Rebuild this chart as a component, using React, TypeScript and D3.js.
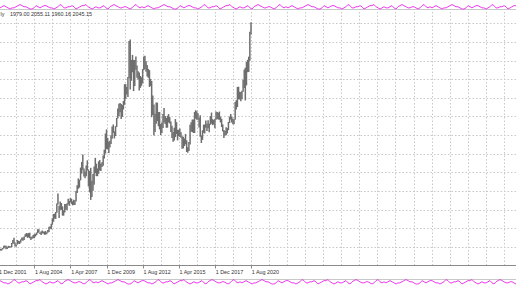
import React from "react";
import * as d3 from "d3";

const W = 516;
const H = 290;

// Monthly bars starting Oct 2001
const startMonth = new Date(2001, 9, 1);
const highs: number[] = [
  293, 284, 282,
  293, 304, 304, 311, 327, 330, 327, 316, 327, 325, 323, 349,
  372, 389, 352, 336, 372, 366, 363, 377, 391, 392, 399, 417,
  426, 422, 427, 428, 396, 399, 410, 417, 420, 430, 456, 456,
  431, 437, 446, 438, 437, 442, 431, 449, 474, 477, 497, 540,
  574, 575, 589, 654, 732, 636, 670, 658, 632, 600, 650, 650,
  656, 690, 673, 697, 691, 672, 683, 679, 751, 795, 848, 838,
  932, 975, 1033, 925, 902, 948, 988, 917, 905, 930, 830, 883,
  940, 1007, 962, 925, 980, 990, 962, 973, 1025, 1070, 1195, 1227,
  1161, 1131, 1139, 1182, 1249, 1265, 1212, 1252, 1316, 1388, 1425, 1431,
  1424, 1415, 1447, 1576, 1577, 1555, 1632, 1911, 1921, 1764, 1803, 1764,
  1764, 1791, 1720, 1677, 1667, 1640, 1630, 1693, 1791, 1796, 1754, 1724,
  1695, 1685, 1617, 1601, 1488, 1420, 1348, 1434, 1434, 1361, 1362, 1268,
  1280, 1345, 1392, 1331, 1315, 1332, 1345, 1322, 1288, 1256, 1207, 1239,
  1307, 1283, 1224, 1224, 1233, 1204, 1174, 1170, 1157, 1191, 1142, 1088,
  1129, 1263, 1283, 1303, 1304, 1362, 1375, 1368, 1352, 1318, 1337, 1181,
  1220, 1264, 1264, 1296, 1271, 1297, 1270, 1330, 1357, 1306, 1299, 1309,
  1366, 1362, 1356, 1365, 1326, 1309, 1266, 1223, 1214, 1243, 1237, 1284,
  1326, 1346, 1324, 1310, 1305, 1439, 1453, 1555, 1557, 1518, 1516, 1525,
  1611, 1689, 1704, 1748, 1765, 1789, 1981, 2055,
];
const lows: number[] = [
  272, 273, 271,
  277, 290, 290, 299, 307, 315, 301, 302, 311, 312, 314, 317,
  343, 344, 322, 322, 336, 343, 341, 352, 370, 366, 372, 396,
  398, 389, 392, 385, 372, 382, 385, 386, 399, 410, 424, 431,
  418, 411, 423, 423, 413, 414, 417, 428, 434, 460, 456, 490,
  513, 538, 535, 583, 646, 543, 605, 604, 561, 560, 585, 606,
  603, 648, 636, 664, 651, 640, 643, 642, 670, 735, 768, 777,
  833, 885, 915, 862, 850, 864, 909, 786, 740, 682, 705, 753,
  800, 890, 866, 865, 884, 910, 905, 936, 946, 1002, 1040, 1075,
  1074, 1045, 1087, 1114, 1155, 1200, 1157, 1176, 1245, 1311, 1331, 1360,
  1308, 1324, 1381, 1417, 1462, 1496, 1478, 1623, 1535, 1603, 1668, 1523,
  1563, 1688, 1627, 1613, 1527, 1548, 1564, 1583, 1685, 1692, 1672, 1636,
  1626, 1555, 1562, 1321, 1338, 1180, 1207, 1270, 1291, 1251, 1227, 1182,
  1200, 1238, 1280, 1268, 1240, 1240, 1280, 1273, 1206, 1160, 1131, 1142,
  1167, 1191, 1142, 1175, 1168, 1162, 1077, 1080, 1098, 1112, 1052, 1046,
  1060, 1111, 1208, 1207, 1199, 1199, 1310, 1301, 1302, 1241, 1171, 1122,
  1146, 1200, 1195, 1240, 1214, 1236, 1204, 1263, 1271, 1260, 1264, 1236,
  1302, 1307, 1303, 1301, 1281, 1245, 1211, 1160, 1180, 1182, 1196, 1221,
  1276, 1303, 1280, 1266, 1266, 1301, 1381, 1400, 1459, 1458, 1445, 1459,
  1517, 1547, 1451, 1567, 1669, 1671, 1757, 1960,
];

const priceLevels: number[] = [2047, 1903, 1759, 1615, 1471, 1327, 1183, 1039, 895, 751, 607, 463, 319];
const tickLabels: string[] = ["1 Dec 2001", "1 Aug 2004", "1 Apr 2007", "1 Dec 2009", "1 Aug 2012", "1 Apr 2015", "1 Dec 2017", "1 Aug 2020"];
const tickDates: Date[] = [
  new Date(2001, 11, 1), new Date(2004, 7, 1), new Date(2007, 3, 1), new Date(2009, 11, 1),
  new Date(2012, 7, 1), new Date(2015, 3, 1), new Date(2017, 11, 1), new Date(2020, 7, 1),
];
const headerLabel = "ly";
const headerValues = "1979.00 2055.11 1960.16 2045.15";

// decorative torn-edge wave pattern (pixel offsets, 0..4)
const wavePattern: number[] = [
  1, 2, 3, 2, 1, 0, 1, 1, 2, 3, 4, 3, 2, 2, 1, 0, 0, 1, 3, 2, 1, 2, 3, 3, 2, 1, 1, 0,
  1, 2, 4, 3, 1, 1, 2, 2, 3, 2, 0, 1, 2, 3, 3, 4, 2, 1, 0, 1, 2, 1, 1, 2, 3, 1, 0, 2,
  3, 4, 3, 2, 1, 1, 2, 2, 1, 0, 1, 3, 4, 2, 1, 2,
];

export default function App() {
  const x = d3.scaleTime().domain([new Date(2004, 7, 1), new Date(2020, 7, 1)]).range([34.3, 251]);
  const y = d3.scaleLinear().domain([175, 2057]).range([265.5, 22]);

  const gridDates: Date[] = [];
  let g = new Date(2000, 7, 1);
  while (x(g) < W + 5) {
    gridDates.push(g);
    g = d3.timeMonth.offset(g, 16);
  }

  const bars = highs.map((h, i) => ({ date: d3.timeMonth.offset(startMonth, i), h, l: lows[i] }));

  const wave = (base: number, amp: number, shift: number) => {
    const pts: [number, number][] = [];
    for (let px = 0, i = shift; px <= W + 2; px += 2, i++) {
      pts.push([px, base - (wavePattern[i % wavePattern.length] * amp) / 4]);
    }
    return d3.line()(pts) || "";
  };

  const fontFamily = "'Liberation Sans', Arial, sans-serif";

  return (
    <div style={{ position: "fixed", left: 0, top: 0 }}>
      <svg width={W} height={H} style={{ display: "block", background: "#fff" }}>
        {/* top edge */}
        <line x1={0} x2={W} y1={9.5} y2={9.5} stroke="#c8c8c8" strokeWidth={1} />
        <path d={wave(9, 4.5, 0)} fill="none" stroke="#f03cf0" strokeWidth={1} />

        {/* vertical grid */}
        {gridDates.map((d, i) => (
          <line key={"v" + i} x1={Math.round(x(d)) + 0.5} x2={Math.round(x(d)) + 0.5} y1={12} y2={265}
            stroke="#c8c8c8" strokeWidth={1} strokeDasharray="1.5,2" />
        ))}
        {/* horizontal grid */}
        {priceLevels.map((p, i) => (
          <line key={"h" + i} x1={0} x2={W} y1={Math.round(y(p)) + 0.5} y2={Math.round(y(p)) + 0.5}
            stroke="#c8c8c8" strokeWidth={1} strokeDasharray="1.5,2" />
        ))}

        {/* header text */}
        <text x={0.5} y={16.3} fontSize={5.4} fontFamily={fontFamily} fill="#333">{headerLabel}</text>
        <text x={10} y={16.3} fontSize={5.4} fontFamily={fontFamily} fill="#333">{headerValues}</text>

        {/* bars */}
        {bars.map((b, i) => (
          <line key={"b" + i} x1={x(b.date)} x2={x(b.date)} y1={y(b.h)} y2={y(b.l)}
            stroke="#6e6e6e" strokeWidth={1.5} />
        ))}

        {/* axis */}
        <line x1={0} x2={W} y1={265.5} y2={265.5} stroke="#8a8a8a" strokeWidth={1} />
        {tickDates.map((d, i) => (
          <g key={"t" + i}>
            <line x1={Math.round(x(d)) + 0.5} x2={Math.round(x(d)) + 0.5} y1={266} y2={268.5} stroke="#8a8a8a" strokeWidth={1} />
            <text x={x(d) + 0.8} y={273.5} fontSize={5.4} fontFamily={fontFamily} fill="#333">{tickLabels[i]}</text>
          </g>
        ))}

        {/* bottom edge */}
        <line x1={0} x2={W} y1={279.5} y2={279.5} stroke="#c8c8c8" strokeWidth={1} />
        <path d={wave(284, 4.5, 23)} fill="none" stroke="#f03cf0" strokeWidth={1} />
      </svg>
    </div>
  );
}
